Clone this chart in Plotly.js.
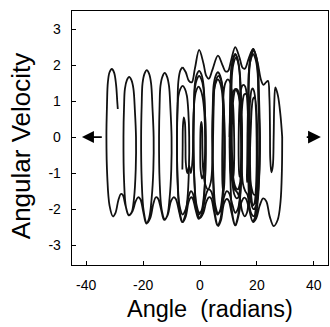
<!DOCTYPE html>
<html>
<head>
<meta charset="utf-8">
<script src="https://cdn.plot.ly/plotly-3.0.1.min.js"></script>
<style>html,body{margin:0;padding:0;background:#fff;}</style>
</head>
<body>
<div id="chart" style="width:330px;height:327px;"></div>
<script>
// Segment A: start of trajectory, oscillation loops in the dense cluster
const angleA = [-6.2,-6.1,-6.0,-5.7,-5.3,-5.1,-5.0,-4.5,-3.8,-3.2,-2.6,-2.4,
  -2.2,-1.8,-1.2,-0.5,0.2,0.9,1.5,1.8,1.7,1.3,0.7,0.2,
  0.1,0.25,0.5,0.75,0.85,1.1,1.8,2.8,3.8,4.4,4.6,
  4.8,5.1,5.8,6.5,7.2,7.9,8.4,8.7,8.7,8.5,8.2,7.9,7.8,7.9,
  8.1,8.4,9.0,9.8,10.6,11.2,11.7,12.0,12.0,11.7,11.2,10.7,10.5,
  10.7,11.0,11.6,12.4,13.2,13.9,14.3,14.6,14.5,14.0,13.2,12.3,11.5,11.0,10.8,
  11.0,11.3,11.9,12.6,13.4,14.0,14.5,14.8,14.7,14.4,13.9,13.6,13.6,
  13.8,14.2,14.7,15.3,15.9,16.4,16.8,17.0,17.0,16.8,16.5,16.6,16.8,
  17.0,17.3,17.9,18.7,19.5,20.2,20.6,20.9,20.8,20.4,19.7,18.8,17.9,17.3,17.0,
  17.1,17.4,18.1,18.9,19.7,20.4,20.8,21.1,21.0,20.6,19.9,19.0,18.1,17.5,17.3,
  17.4,17.8,18.1,18.5,18.9,19.3,19.7,19.9,19.9,19.6,19.1,18.6,18.1,17.7,17.6,
  17.9,18.2,18.6,19.0,19.4,19.8,20.1,20.2,20.1,19.7,19.0,18.2,17.4,16.7,15.9,15.1,14.6,14.5,
  14.7,15.1,15.5,16.0,16.5,16.9,17.2,17.4,17.4,17.1,16.5,15.7,14.8,14.0,13.2,12.3,11.6,11.3,11.2,
  11.4,11.8,12.3,12.8,13.3,13.8,14.2,14.4,14.4,14.1,13.6,12.9,12.1,11.4,10.8,10.5];
const velocityA = [-0.9,-0.3,0.3,0.55,0.4,-0.2,-0.7,-1.0,-0.8,-1.0,-0.6,0,
  0.75,1.12,1.32,1.4,1.32,1.12,0.7,0,-0.6,-1.0,-1.15,-0.9,
  -0.3,0.3,0.42,0.25,-0.3,-0.9,-1.3,-1.45,-1.25,-0.6,0,
  0.8,1.38,1.62,1.7,1.62,1.38,0.8,0,-0.8,-1.35,-1.55,-1.3,-0.6,0,
  0.8,1.3,1.52,1.6,1.52,1.3,0.8,0,-0.7,-1.1,-1.2,-0.9,-0.3,
  1.0,1.85,2.17,2.3,2.17,1.85,1.0,0,-0.8,-1.3,-1.45,-1.35,-1.0,-0.5,0,
  1.0,1.78,2.08,2.2,2.08,1.78,1.0,0,-0.6,-1.0,-1.1,-0.6,0,
  0.75,1.2,1.4,1.45,1.4,1.2,0.7,0,-0.7,-1.15,-1.25,-0.7,0,
  1.0,1.96,2.3,2.45,2.3,1.96,1.0,0,-0.9,-1.55,-1.9,-2.0,-1.8,-1.2,-0.5,
  1.0,1.92,2.26,2.4,2.26,1.92,1.0,0,-0.7,-1.25,-1.55,-1.6,-1.4,-0.9,0,
  0.7,1.15,1.3,1.35,1.3,1.15,0.7,0,-0.8,-1.5,-1.85,-1.9,-1.7,-1.1,-0.4,
  0.3,0.8,1.05,1.1,1.05,0.8,0.3,-0.4,-1.2,-1.9,-2.2,-2.15,-1.95,-1.6,-1.5,-1.3,-0.6,0,
  0.7,1.05,1.18,1.2,1.15,0.9,0.4,-0.3,-1.0,-1.7,-2.1,-2.2,-2.05,-1.7,-1.55,-1.45,-1.1,-0.5,0,
  0.7,1.1,1.3,1.34,1.3,1.1,0.7,0,-0.7,-1.3,-1.65,-1.7,-1.6,-1.3,-0.9,-0.3];

// Segment B: first backward run (12 -> -6)
const angleB = [10.4,10.6,10.9,11.6,12.4,13.2,13.9,14.4,14.7,14.6,14.1,13.3,12.4,11.3,10.2,9.4,8.5,7.5,6.4,5.4,4.7,4.4,
  4.6,4.9,5.5,6.3,7.1,7.7,8.2,8.5,8.4,7.9,7.0,6.1,5.0,3.9,3.0,2.1,1.1,-0.2,-1.3,-2.0,-2.3,
  -2.1,-1.8,-1.1,-0.3,0.5,1.2,1.7,2.0,1.9,1.4,0.5,-0.5,-1.6,-2.6,-3.2,-4.0,-5.0,-6.1,-7.2,-7.9,-8.1,
  -7.9,-7.6,-6.9,-6.1];
const velocityB = [0,1.0,1.8,2.15,2.3,2.15,1.8,0.9,0,-0.9,-1.6,-2.0,-2.1,-1.85,-1.55,-1.5,-1.65,-2.0,-2.12,-1.9,-1.1,0,
  0.8,1.28,1.5,1.6,1.5,1.28,0.7,0,-0.9,-1.6,-2.05,-2.15,-1.85,-1.5,-1.45,-1.6,-1.95,-2.1,-1.85,-1.1,0,
  0.85,1.36,1.6,1.7,1.6,1.36,0.75,0,-0.9,-1.6,-2.05,-2.15,-1.9,-1.55,-1.5,-1.65,-2.0,-2.15,-1.9,-1.1,0,
  0.9,1.55,1.85,1.94];

// Segment C: forward run along the upper wave (-6 -> 29)
const angleC = [-6.1,-5.0,-3.9,-2.9,-1.8,-0.3,1.2,2.2,3.1,4.3,6.3,7.9,9.0,9.9,11.0,12.4,13.9,15.0,15.8,17.2,18.7,20.3,21.4,22.3,23.2,23.9,
  24.4,24.6,24.7,25.1,25.6,25.9,26.1,26.5,27.4,28.3,28.9];
const velocityC = [1.94,1.8,1.56,1.52,1.9,2.42,2.05,1.7,1.62,1.85,2.26,2.0,1.82,1.84,2.15,2.5,2.2,1.92,1.9,2.2,2.45,2.05,1.6,1.45,1.52,1.56,
  1.1,0.2,-0.6,-0.98,-0.8,0,0.9,1.38,1.15,0.6,0];

// Segment D: final backward run through the cluster (29 -> -8)
const angleD = [28.9,28.8,28.3,27.3,25.9,24.5,23.3,22.2,21.0,19.8,18.7,17.6,17.0,16.7,
  16.9,17.2,17.9,18.7,19.5,20.2,20.6,21.0,20.9,20.4,19.5,18.5,17.4,16.2,15.55,14.6,13.5,12.5,11.4,10.7,10.4,
  10.6,11.0,11.7,12.4,13.1,13.8,14.3,14.7,14.6,14.1,13.2,12.3,11.1,10.0,9.3,8.4,7.4,6.4,5.3,4.6,4.3,
  4.5,4.8,5.5,6.3,7.1,7.8,8.3,8.6,8.5,8.0,7.1,6.1,4.9,3.9,3.1,2.2,1.2,-0.1,-1.2,-2.0,-2.3,
  -2.1,-1.8,-1.1,-0.3,0.5,1.2,1.7,2.0,1.9,1.4,0.5,-0.5,-1.6,-2.6,-3.2,-4.0,-5.0,-6.1,-7.2,-7.9,-8.1];
const velocityD = [0,-0.9,-1.8,-2.3,-2.47,-2.2,-1.78,-1.7,-1.9,-2.25,-2.36,-2.1,-1.2,0,
  0.9,1.84,2.17,2.3,2.17,1.84,0.9,0,-0.9,-1.7,-2.2,-2.33,-2.05,-1.72,-1.68,-1.8,-2.2,-2.45,-2.15,-1.2,0,
  0.6,1.07,1.26,1.34,1.26,1.07,0.6,0,-0.9,-1.7,-2.25,-2.45,-2.1,-1.75,-1.72,-1.85,-2.3,-2.47,-2.15,-1.2,0,
  0.9,1.44,1.7,1.8,1.7,1.44,0.8,0,-0.9,-1.7,-2.3,-2.45,-2.05,-1.7,-1.67,-1.8,-2.1,-2.25,-2.0,-1.2,0,
  0.9,1.47,1.74,1.84,1.74,1.47,0.8,0,-0.9,-1.7,-2.15,-2.27,-2.0,-1.7,-1.67,-1.8,-2.2,-2.36,-2.05,-1.2,0];

// Segment E: the drifting tail (-8 -> end at -29)
const angleE = [-8.1,-7.9,-7.6,-6.9,-6.1,-5.3,-4.6,-4.1,-3.8,-3.9,-4.4,-5.3,-6.3,-7.4,-8.5,-9.3,-10.3,-11.3,-12.4,-13.5,-14.2,-14.4,
  -14.2,-13.9,-13.2,-12.4,-11.6,-10.9,-10.4,-10.0,-10.1,-10.7,-11.6,-12.6,-13.7,-14.8,-15.5,-16.4,-17.5,-18.7,-19.8,-20.5,-20.7,
  -20.5,-20.2,-19.5,-18.7,-17.9,-17.2,-16.7,-16.3,-16.4,-17.0,-17.9,-18.9,-20.0,-21.0,-21.8,-22.7,-23.7,-24.9,-26.0,-26.7,-26.9,
  -26.7,-26.4,-25.7,-24.9,-24.1,-23.4,-22.9,-22.5,-22.6,-23.2,-24.1,-25.1,-26.2,-27.2,-27.8,-28.7,-29.7,-30.6,-31.8,-32.6,-32.9,
  -32.7,-32.4,-31.8,-31.0,-30.2,-29.5,-29.1,-28.9];
const velocityE = [0,0.75,1.14,1.34,1.42,1.34,1.14,0.7,0,-0.9,-1.7,-2.2,-2.36,-2.05,-1.72,-1.67,-1.8,-2.15,-2.28,-2.0,-1.2,0,
  0.9,1.42,1.68,1.78,1.68,1.42,0.8,0,-0.9,-1.7,-2.2,-2.3,-2.0,-1.7,-1.67,-1.85,-2.25,-2.39,-2.05,-1.2,0,
  0.9,1.49,1.76,1.86,1.76,1.49,0.8,0,-0.9,-1.7,-2.25,-2.4,-2.05,-1.72,-1.67,-1.8,-2.05,-2.17,-1.95,-1.2,0,
  0.85,1.34,1.58,1.67,1.58,1.34,0.75,0,-0.9,-1.7,-2.1,-2.17,-1.9,-1.6,-1.58,-1.75,-2.1,-2.2,-1.9,-1.1,0,
  0.9,1.51,1.8,1.89,1.79,1.45,1.0,0.78];

const xTicks = [-40, -20, 0, 20, 40];
const yTicks = [-3, -2, -1, 0, 1, 2, 3];

const lineStyle = {color: '#111', width: 1.8, shape: 'spline', smoothing: 1};
const segs = [[angleA, velocityA], [angleB, velocityB], [angleC, velocityC], [angleD, velocityD], [angleE, velocityE]];
const traces = segs.map(s => ({x: s[0], y: s[1], type: 'scatter', mode: 'lines', line: lineStyle, hoverinfo: 'skip'}));

const font = 'Liberation Sans, Arial, sans-serif';
const axisCommon = {
  showgrid: false, zeroline: false, showline: true, mirror: true,
  linecolor: '#000', linewidth: 1.3, ticks: 'inside', ticklen: 4, tickwidth: 1, tickcolor: '#000',
  tickfont: {family: font, size: 14, color: '#000'}, ticklabelstandoff: 7
};

const layout = {
  width: 330, height: 327,
  margin: {l: 72, r: 2, t: 11, b: 62},
  paper_bgcolor: '#fff', plot_bgcolor: '#fff',
  showlegend: false,
  xaxis: Object.assign({}, axisCommon, {
    range: [-45, 45], tickvals: xTicks, ticktext: xTicks.map(String)
  }),
  yaxis: Object.assign({}, axisCommon, {
    range: [-3.55, 3.5], tickvals: yTicks, ticktext: yTicks.map(String)
  }),
  annotations: [
    {x: -41.5, y: 0, ax: -34, ay: 0, xref: 'x', yref: 'y', axref: 'x', ayref: 'y',
     showarrow: true, arrowhead: 2, arrowsize: 1.5, arrowwidth: 1.6, arrowcolor: '#000', text: ''},
    {x: 42.5, y: 0, ax: 37.0, ay: 0, xref: 'x', yref: 'y', axref: 'x', ayref: 'y',
     showarrow: true, arrowhead: 2, arrowsize: 1.6, arrowwidth: 1.6, arrowcolor: '#000', text: ''},
    {text: 'Angle\u00a0 (radians)', xref: 'paper', yref: 'paper', x: 0.539, y: -0.173,
     xanchor: 'center', yanchor: 'middle', showarrow: false,
     font: {family: font, size: 23.5, color: '#000'}},
    {text: 'Angular Velocity', xref: 'paper', yref: 'paper', x: -0.199, y: 0.468, textangle: -90,
     xanchor: 'center', yanchor: 'middle', showarrow: false,
     font: {family: font, size: 26, color: '#000'}}
  ]
};

Plotly.newPlot('chart', traces, layout, {staticPlot: true, displayModeBar: false});
</script>
</body>
</html>
